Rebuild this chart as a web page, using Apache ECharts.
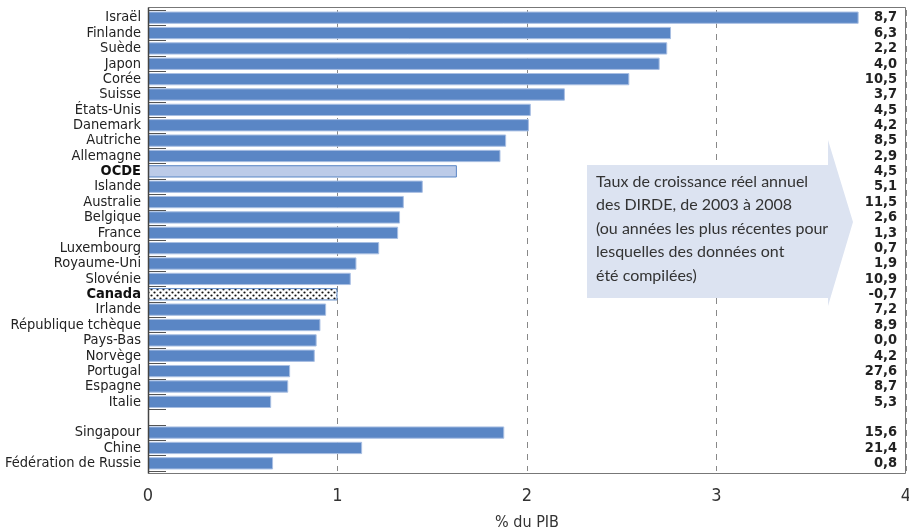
<!DOCTYPE html>
<html><head><meta charset="utf-8">
<script src="https://cdn.jsdelivr.net/npm/echarts@6/dist/echarts.min.js"></script>
<style>html,body{margin:0;padding:0;background:#fff}#c{width:909px;height:531px}</style>
</head><body><div id="c"></div>
<script>
const categories = ['Israël','Finlande','Suède','Japon','Corée','Suisse','États-Unis','Danemark','Autriche','Allemagne','OCDE','Islande','Australie','Belgique','France','Luxembourg','Royaume-Uni','Slovénie','Canada','Irlande','République tchèque','Pays-Bas','Norvège','Portugal','Espagne','Italie','','Singapour','Chine','Fédération de Russie'];
const values = [3.75,2.76,2.74,2.70,2.54,2.20,2.02,2.01,1.89,1.86,1.63,1.45,1.35,1.33,1.32,1.22,1.10,1.07,1.00,0.94,0.91,0.89,0.88,0.75,0.74,0.65,null,1.88,1.13,0.66];
const growth = ['8,7','6,3','2,2','4,0','10,5','3,7','4,5','4,2','8,5','2,9','4,5','5,1','11,5','2,6','1,3','0,7','1,9','10,9','-0,7','7,2','8,9','0,0','4,2','27,6','8,7','5,3','','15,6','21,4','0,8'];
const xTicks = [0,1,2,3,4];
const calloutText = 'Taux de croissance réel annuel\ndes DIRDE, de 2003 à 2008\n(ou années les plus récentes pour\nlesquelles des données ont\nété compilées)';

const FONT = '"Liberation Sans Narrow","DejaVu Sans Condensed",sans-serif';
const BLUE = '#5a86c5';

// dotted pattern for Canada
const pc = document.createElement('canvas');
pc.width = 6; pc.height = 6;
const px = pc.getContext('2d');
px.fillStyle = '#fff'; px.fillRect(0,0,6,6);
px.fillStyle = '#111';
px.beginPath(); px.arc(1.5,1.5,1.1,0,Math.PI*2); px.fill();
px.beginPath(); px.arc(4.5,4.5,1.1,0,Math.PI*2); px.fill();

const data = values.map((v,i)=>{
  const c = categories[i];
  if (c === 'OCDE') return {value:v, itemStyle:{color:'#bccbe8', borderColor:BLUE, borderWidth:1}};
  if (c === 'Canada') return {value:v, itemStyle:{color:{image:pc, repeat:'repeat'}, borderColor:BLUE, borderWidth:1}};
  return v;
});

const chart = echarts.init(document.getElementById('c'));
chart.setOption({
  animation:false,
  grid:{left:148, right:3, top:10, bottom:60, show:false, containLabel:false, outerBoundsMode:'none'},
  xAxis:{type:'value', min:0, max:4, interval:1,
    axisLine:{show:false}, axisTick:{show:false},
    splitLine:{show:true, lineStyle:{type:[6,6], color:'#888', width:1}},
    axisLabel:{fontFamily:FONT, fontSize:18, color:'#333', margin:16, formatter:v=>xTicks.includes(v)?String(v):''},
    name:'% du PIB', nameLocation:'middle', nameGap:44,
    nameTextStyle:{fontFamily:FONT, fontSize:16, color:'#333'}},
  yAxis:[
    {type:'category', inverse:true, data:categories,
     axisLine:{show:false},
     axisTick:{show:true, inside:true, length:18, interval:0, lineStyle:{color:'#555'}},
     axisLabel:{interval:0, fontFamily:FONT, fontSize:14.5, color:'#222', margin:7, lineHeight:14,
       formatter:v=>(v==='OCDE'||v==='Canada')?'{b|'+v+'}':v,
       rich:{b:{fontFamily:FONT, fontSize:14.5, fontWeight:'bold', color:'#111'}}}},
    {type:'category', inverse:true, position:'right', data:growth,
     axisLine:{show:false}, axisTick:{show:false},
     axisLabel:{interval:0, inside:true, margin:9, fontFamily:FONT, fontSize:14.5, fontWeight:'bold', color:'#222', lineHeight:14}}
  ],
  series:[{type:'bar', data:data, yAxisIndex:0, barCategoryGap:'20%',
    itemStyle:{color:BLUE, borderColor:'#a9bfe3', borderWidth:1}}],
  graphic:[
    {type:'rect', z:5, silent:true, shape:{x:148.5, y:7.5, width:757, height:466},
     style:{fill:null, stroke:'#777', lineWidth:1}},
    {type:'line', z:6, silent:true, shape:{x1:148.5, y1:7.5, x2:148.5, y2:473.5},
     style:{stroke:'#444', lineWidth:1.5}},
    {type:'polygon', z:10, shape:{points:[[587,165],[828,165],[828,140],[853,222],[828,306],[828,298],[587,298]]},
     style:{fill:'#dce3f1'}},
    {type:'text', z:11, left:596, top:170,
     style:{text:calloutText, fontFamily:'"Lato","Liberation Sans",sans-serif', fontSize:16, lineHeight:23.5, fill:'#333'}}
  ]
});
</script></body></html>
